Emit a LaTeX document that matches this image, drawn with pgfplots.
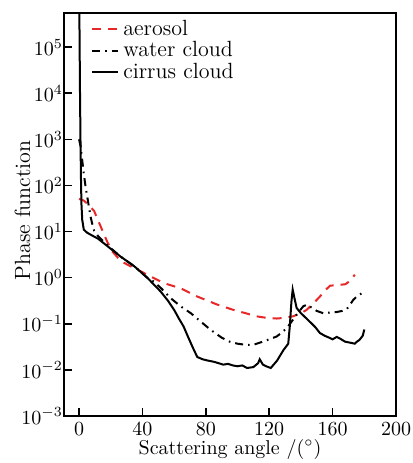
\documentclass[border=0pt]{standalone}
\usepackage{pgfplots}
\pgfplotsset{compat=1.18}
\definecolor{aerored}{RGB}{232,40,40}
\begin{document}
\begin{tikzpicture}
\begin{axis}[
  scale only axis,
  width=166pt, height=201.5pt,
  ymode=log,
  xmin=-9.5, xmax=200,
  ymin=1e-3, ymax=5.5e5,
  xtick={0,40,80,120,160,200},
  ytick={1e-3,1e-2,1e-1,1,1e1,1e2,1e3,1e4,1e5},
  minor tick length=0pt,
  tick align=inside,
  xtick pos=bottom, ytick pos=left,
  major tick length=4pt,
  axis line style={line width=1pt},
  tick style={line width=0.8pt, black},
  yticklabel style={xshift=3pt},
  xlabel={Scattering angle /($^\circ$)},
  ylabel={Phase function},
  xlabel style={at={(axis description cs:0.5,-0.082)}, anchor=center},
  ylabel style={at={(axis description cs:-0.125,0.51)}, anchor=center, font=\fontsize{11}{13}\selectfont},
  legend cell align=left,
  legend style={draw=none, fill=none, at={(axis description cs:0.075,0.998)}, anchor=north west, inner sep=1pt, row sep=-2.5pt, font=\fontsize{11}{13}\selectfont},
  legend image code/.code={\draw[#1] (0pt,0pt) -- (13pt,0pt);},
  clip=true,
]
\addplot[aerored, line width=1pt, dash pattern=on 4.5pt off 3.5pt] coordinates {
(0,51) (3,47) (6,38) (9.5,28) (12.5,16) (15.8,8.6) (18,5.8) (21,3.7) (24.5,2.7) (28.4,2.1)
(32,1.8) (36.8,1.5) (45,1.07) (53.6,0.76) (64,0.59) (74.6,0.39) (87.3,0.26) (97.4,0.2)
(105,0.17) (112,0.145) (118,0.135) (124.7,0.13) (130,0.135) (135,0.145) (140,0.17)
(143.6,0.2) (148,0.28) (152,0.39) (155,0.52) (158.4,0.67) (164.7,0.7) (168,0.72) (171,0.85) (174,1.16)
};
\addlegendentry{aerosol}
\addplot[black, line width=1pt, dash pattern=on 4pt off 2.5pt on 0.8pt off 2.5pt] coordinates {
(0,1000) (1,700) (2,350) (3,180) (4,100) (5.2,56) (6.3,33) (7.4,20) (8.5,14) (9.5,10.5)
(12,8) (18,5) (26,2.9) (35,1.75) (43,1.0) (47,0.83) (52,0.58) (57.8,0.36) (64,0.24)
(70.5,0.17) (77,0.11) (83,0.074) (90,0.05) (95,0.041) (100,0.037) (105,0.035) (110,0.035)
(116,0.041) (120,0.046) (124.7,0.053) (128,0.065) (131,0.08) (134,0.11) (138,0.17)
(141.5,0.24) (144,0.26) (147,0.22) (150,0.19) (154,0.17) (158,0.175) (162.6,0.18)
(166,0.19) (169,0.21) (171,0.26) (173,0.33) (176,0.41) (179.4,0.48)
};
\addlegendentry{water cloud}
\addplot[black, line width=1pt] coordinates {
(0,3e6) (0.3,2e5) (0.6,1e4) (0.9,1e3) (1.2,150) (1.5,40) (2,18) (3,11) (5,9.5) (8,8.3)
(12,7) (18,4.8) (26,2.9) (35,1.75) (43,1.0) (51.5,0.5) (56,0.32) (60,0.2) (63,0.13)
(66,0.087) (69,0.05) (71.5,0.032) (74.6,0.019) (78,0.017) (81,0.016) (85,0.015) (88,0.014)
(91,0.013) (94,0.0135) (97,0.0125) (100,0.012) (103,0.0125) (106,0.011) (110,0.0115)
(113,0.014) (114,0.017) (116,0.013) (118,0.012) (121,0.011) (125,0.016) (129,0.027)
(132,0.037) (133,0.09) (134,0.3) (134.8,0.55) (136,0.35) (137.3,0.22) (140,0.17)
(145.7,0.11) (149,0.085) (152,0.063) (155,0.055) (158.4,0.049) (160,0.046) (162.6,0.052)
(165,0.047) (167.8,0.041) (171,0.039) (174,0.037) (175,0.04) (177,0.045) (179,0.055) (180,0.075)
};
\addlegendentry{cirrus cloud}
\end{axis}
\pgfresetboundingbox
\path ([shift={(-32pt,-23.5pt)}]current axis.south west) rectangle ([shift={(8pt,6.5pt)}]current axis.north east);
\end{tikzpicture}
\end{document}
